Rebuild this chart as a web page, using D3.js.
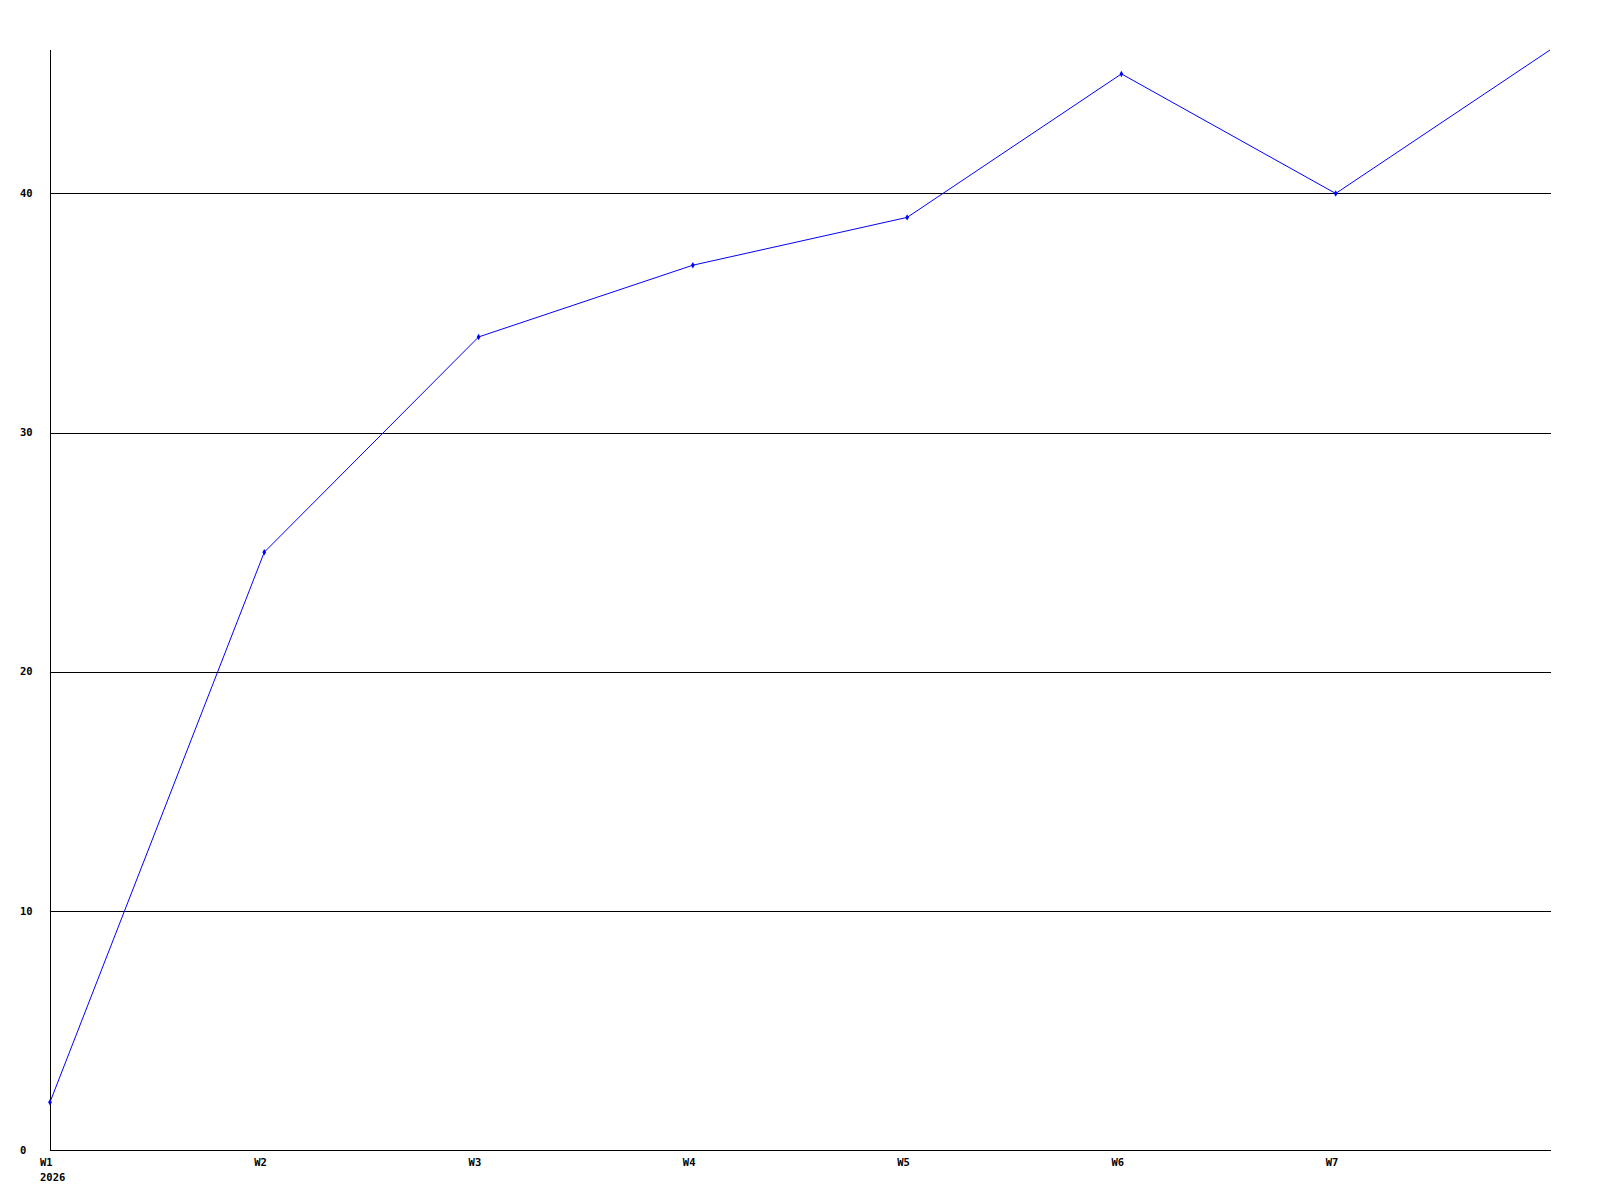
<!DOCTYPE html>
<html>
<head>
<meta charset="utf-8">
<script src="https://cdn.jsdelivr.net/npm/d3@7"></script>
<style>
  body { margin:0; background:#fff; }
  svg { display:block; }
  .lbl { font-family:"DejaVu Sans Mono", monospace; font-weight:bold; font-size:10.5px; fill:#000; }
</style>
</head>
<body>
<svg></svg>
<script>
// chart data
let weeks = ['W1','W2','W3','W4','W5','W6','W7','W8'];
let values = [2, 25, 34, 37, 39, 45, 40, 46];
let y_ticks = [0, 10, 20, 30, 40];
let year_label = '2026';

let W = 1600, H = 1200;
let m = {left:50, right:50, top:50, bottom:50};

let svg = d3.select('svg').attr('width', W).attr('height', H);

let x_scale = d3.scalePoint().domain(weeks).range([m.left, W - m.right]);
let y_scale = d3.scaleLinear().domain([0, 46]).range([H - m.bottom, m.top]);

// grid lines
svg.append('g').selectAll('line').data(y_ticks.filter(d => d > 0)).enter()
  .append('line')
  .attr('x1', m.left).attr('x2', W - m.right + 1)
  .attr('y1', d => Math.round(y_scale(d)) + 0.5).attr('y2', d => Math.round(y_scale(d)) + 0.5)
  .attr('stroke', '#000').attr('stroke-width', 1).attr('shape-rendering', 'crispEdges');

// axes
svg.append('line').attr('x1', m.left + 0.5).attr('x2', m.left + 0.5)
  .attr('y1', m.top).attr('y2', H - m.bottom + 1)
  .attr('stroke', '#000').attr('shape-rendering', 'crispEdges');
svg.append('line').attr('x1', m.left).attr('x2', W - m.right + 1)
  .attr('y1', H - m.bottom + 0.5).attr('y2', H - m.bottom + 0.5)
  .attr('stroke', '#000').attr('shape-rendering', 'crispEdges');

// y labels
svg.append('g').selectAll('text').data(y_ticks).enter()
  .append('text').attr('class', 'lbl')
  .attr('x', 20).attr('y', d => y_scale(d)).attr('dy', '0.35em')
  .text(d => d);

// x labels (last week sits on the right edge, no label)
svg.append('g').selectAll('text').data(weeks.slice(0, -1)).enter()
  .append('text').attr('class', 'lbl')
  .attr('x', d => x_scale(d) - 10).attr('y', H - m.bottom + 12).attr('dy', '0.35em')
  .text(d => d);
svg.append('text').attr('class', 'lbl')
  .attr('x', x_scale(weeks[0]) - 10).attr('y', H - m.bottom + 27).attr('dy', '0.35em')
  .text(year_label);

// series line
let line = d3.line().x((d, i) => x_scale(weeks[i])).y(d => y_scale(d));
svg.append('path').datum(values)
  .attr('d', line).attr('fill', 'none').attr('stroke', '#0000ff').attr('stroke-width', 1);

// markers (none on the edge point)
svg.append('g').selectAll('path').data(values.slice(0, -1)).enter()
  .append('path')
  .attr('d', d3.symbol().type(d3.symbolDiamond).size(12))
  .attr('transform', (d, i) => 'translate(' + x_scale(weeks[i]) + ',' + y_scale(d) + ')')
  .attr('fill', '#0000ff');
</script>
</body>
</html>
